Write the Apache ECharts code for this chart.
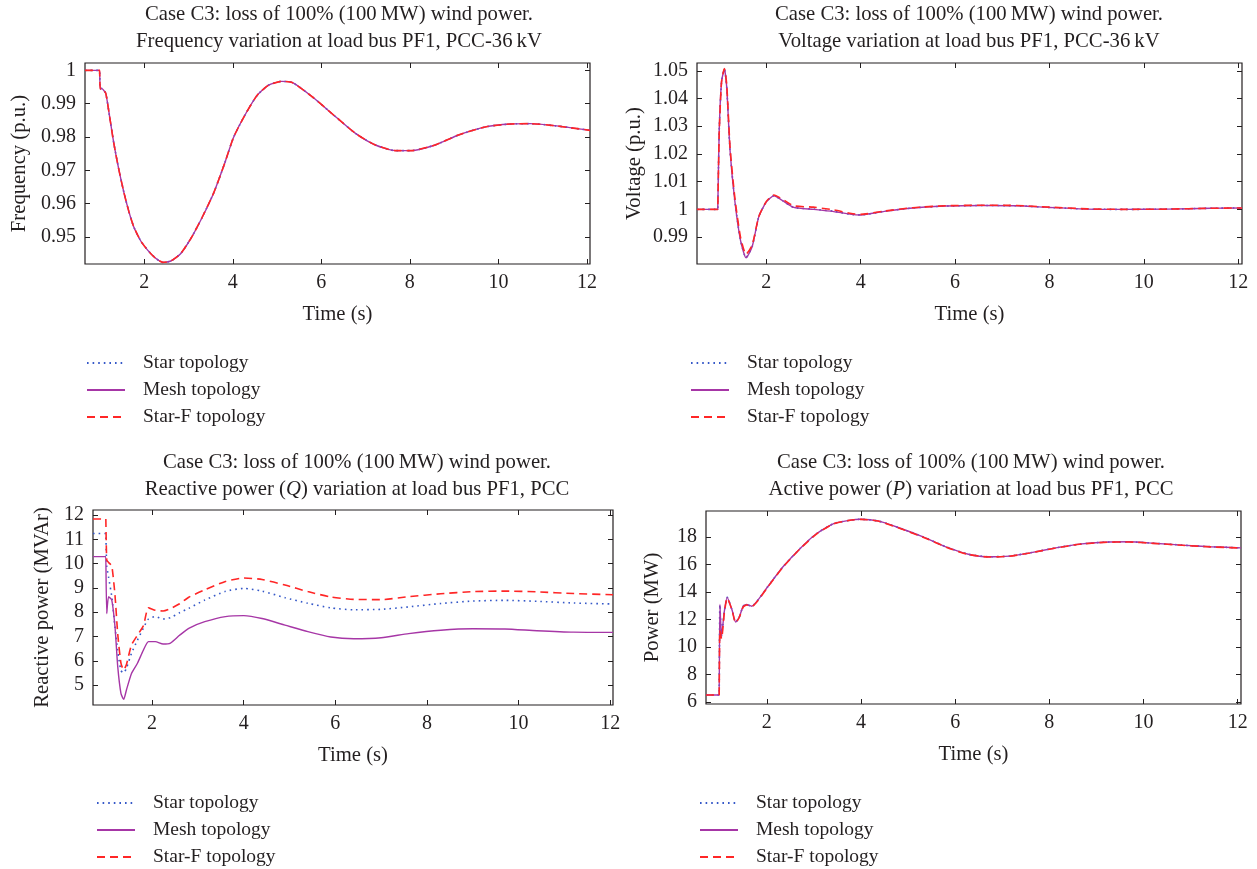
<!DOCTYPE html>
<html>
<head>
<meta charset="utf-8">
<title>Case C3: loss of 100% wind power</title>
<script src="https://cdn.jsdelivr.net/npm/echarts@6/dist/echarts.min.js"></script>
<style>
  html, body { margin: 0; padding: 0; background: #fff; }
  #main { width: 1257px; height: 869px; }
</style>
</head>
<body>
<div id="main"></div>
<script>
// ---- data ----
const seriesNames = ['Star topology', 'Mesh topology', 'Star-F topology'];
const timeTicks = [2, 4, 6, 8, 10, 12];

// frequency (p.u.)
const freqTime = [0.66, 0.99, 1.0, 1.005, 1.04, 1.07, 1.13, 1.22, 1.31, 1.42, 1.54, 1.65, 1.76, 1.92, 2.08, 2.25, 2.42, 2.6, 2.82, 3.05, 3.3, 3.57, 3.8, 4.02, 4.3, 4.55, 4.8, 5.1, 5.35, 5.8, 6.33, 6.78, 7.22, 7.67, 8.03, 8.57, 9.1, 9.73, 10.27, 10.72, 11.26, 12.07];
const freqStar = [1.0, 1.0, 1.0, 0.9944, 0.9946, 0.9942, 0.9931, 0.9858, 0.9782, 0.9705, 0.9633, 0.9577, 0.9531, 0.9488, 0.946, 0.9437, 0.9424, 0.9428, 0.945, 0.9495, 0.9557, 0.9633, 0.9715, 0.98, 0.9872, 0.9925, 0.9955, 0.9967, 0.9963, 0.992, 0.986, 0.981, 0.9776, 0.9759, 0.9759, 0.9776, 0.9806, 0.9831, 0.9839, 0.984, 0.9834, 0.982];
const freqMesh = [1.0, 1.0, 1.0, 0.9944, 0.9946, 0.9942, 0.9931, 0.9858, 0.9782, 0.9705, 0.9633, 0.9577, 0.9531, 0.9488, 0.946, 0.9437, 0.9424, 0.9428, 0.945, 0.9495, 0.9557, 0.9633, 0.9715, 0.98, 0.9872, 0.9925, 0.9955, 0.9967, 0.9963, 0.992, 0.986, 0.981, 0.9776, 0.9759, 0.9759, 0.9776, 0.9806, 0.9831, 0.9839, 0.984, 0.9834, 0.982];
const freqStarF = [1.0, 1.0, 1.0, 0.9944, 0.9946, 0.9942, 0.9931, 0.9858, 0.9782, 0.9705, 0.9633, 0.9577, 0.9531, 0.9488, 0.946, 0.9437, 0.9424, 0.9428, 0.945, 0.9495, 0.9557, 0.9633, 0.9715, 0.98, 0.9872, 0.9925, 0.9955, 0.9967, 0.9963, 0.992, 0.986, 0.981, 0.9776, 0.9759, 0.9759, 0.9776, 0.9806, 0.9831, 0.9839, 0.984, 0.9834, 0.982];
const freqTicks = [0.95, 0.96, 0.97, 0.98, 0.99, 1];

// voltage (p.u.)
const voltTime = [0.53, 0.97, 0.98, 1.0, 1.05, 1.11, 1.16, 1.23, 1.33, 1.45, 1.57, 1.7, 1.84, 2.0, 2.16, 2.33, 2.58, 3.0, 3.43, 3.8, 4.0, 4.5, 5.1, 5.8, 6.6, 7.3, 8.0, 8.8, 9.6, 10.5, 11.4, 12.08];
const voltStar = [1.0, 1.0, 1.0, 1.028, 1.046, 1.0506, 1.044, 1.0213, 1.0033, 0.989, 0.9826, 0.9866, 0.9974, 1.0027, 1.0049, 1.0033, 1.0007, 1.0001, 0.9993, 0.9982, 0.998, 0.9993, 1.0005, 1.0012, 1.0014, 1.0013, 1.0007, 1.0001, 1.0, 1.0001, 1.0004, 1.0005];
const voltMesh = [1.0, 1.0, 1.0, 1.028, 1.046, 1.0506, 1.044, 1.0213, 1.0033, 0.989, 0.9825, 0.9866, 0.9974, 1.0027, 1.0049, 1.0033, 1.0007, 1.0, 0.9992, 0.9982, 0.998, 0.9993, 1.0005, 1.0012, 1.0014, 1.0013, 1.0007, 1.0001, 1.0, 1.0001, 1.0004, 1.0005];
const voltStarF = [1.0, 1.0, 1.0, 1.027, 1.046, 1.0508, 1.045, 1.0225, 1.0045, 0.9902, 0.9838, 0.9872, 0.9974, 1.0029, 1.0052, 1.0038, 1.0013, 1.0008, 0.9998, 0.9985, 0.9982, 0.9994, 1.0006, 1.0013, 1.0015, 1.0014, 1.0008, 1.0002, 1.0, 1.0001, 1.0004, 1.0005];
const voltTicks = [0.99, 1, 1.01, 1.02, 1.03, 1.04, 1.05];

// reactive power (MVAr)
const qTime = [0.71, 0.99, 1.0, 1.01, 1.05, 1.12, 1.19, 1.25, 1.32, 1.38, 1.44, 1.55, 1.68, 1.81, 1.92, 2.07, 2.24, 2.4, 2.6, 2.8, 3.15, 3.6, 4.0, 4.4, 4.9, 5.4, 5.9, 6.4, 7.0, 7.6, 8.3, 9.0, 9.7, 10.4, 11.2, 12.06];
const qStar = [11.24, 11.24, 11.24, 9.9, 9.45, 8.64, 7.4, 6.4, 5.6, 5.5, 5.7, 6.31, 6.85, 7.35, 7.72, 7.82, 7.72, 7.78, 7.98, 8.16, 8.5, 8.86, 8.98, 8.87, 8.6, 8.37, 8.18, 8.1, 8.12, 8.22, 8.36, 8.46, 8.49, 8.45, 8.38, 8.34];
const qMesh = [10.29, 10.29, 10.29, 7.95, 8.64, 8.5, 7.4, 5.76, 4.66, 4.41, 4.8, 5.48, 5.9, 6.44, 6.79, 6.79, 6.69, 6.73, 7.05, 7.34, 7.61, 7.82, 7.86, 7.74, 7.47, 7.2, 6.98, 6.91, 6.95, 7.12, 7.26, 7.32, 7.31, 7.24, 7.18, 7.17];
const qStarF = [11.84, 11.84, 11.84, 10.15, 10.05, 9.9, 8.7, 7.1, 5.9, 5.62, 5.85, 6.65, 7.05, 7.45, 8.18, 8.08, 8.05, 8.15, 8.35, 8.62, 8.92, 9.27, 9.41, 9.35, 9.12, 8.85, 8.63, 8.53, 8.52, 8.64, 8.76, 8.85, 8.87, 8.84, 8.77, 8.72];
const qTicks = [5, 6, 7, 8, 9, 10, 11, 12];

// active power (MW)
const pTime = [0.71, 0.99, 1.0, 1.005, 1.04, 1.1, 1.16, 1.26, 1.34, 1.41, 1.5, 1.57, 1.68, 1.82, 2.0, 2.35, 2.71, 3.06, 3.42, 3.75, 4.0, 4.36, 4.79, 5.32, 5.84, 6.28, 6.72, 7.15, 7.59, 8.11, 8.64, 9.16, 9.69, 10.2, 10.82, 11.43, 12.07];
const pStar = [6.5, 6.5, 6.5, 13.08, 10.8, 12.6, 13.6, 12.72, 11.8, 12.12, 12.96, 13.08, 12.96, 13.44, 14.28, 15.84, 17.16, 18.24, 18.96, 19.2, 19.28, 19.16, 18.68, 18.0, 17.23, 16.74, 16.55, 16.6, 16.84, 17.18, 17.47, 17.61, 17.64, 17.54, 17.4, 17.28, 17.2];
const pMesh = [6.5, 6.5, 6.5, 13.08, 10.8, 12.6, 13.6, 12.72, 11.8, 12.12, 12.96, 13.08, 12.96, 13.44, 14.28, 15.84, 17.16, 18.24, 18.96, 19.2, 19.28, 19.16, 18.68, 18.0, 17.23, 16.74, 16.55, 16.6, 16.84, 17.18, 17.47, 17.61, 17.64, 17.54, 17.4, 17.28, 17.2];
const pStarF = [6.5, 6.5, 6.5, 11.2, 10.6, 12.5, 13.55, 12.7, 11.75, 12.1, 12.9, 13.05, 12.93, 13.4, 14.25, 15.82, 17.14, 18.22, 18.95, 19.2, 19.27, 19.15, 18.66, 17.98, 17.21, 16.72, 16.54, 16.59, 16.83, 17.17, 17.46, 17.6, 17.63, 17.53, 17.39, 17.27, 17.19];
const pTicks = [6, 8, 10, 12, 14, 16, 18];

// ---- chart ----
const font = '"Liberation Serif", "DejaVu Serif", serif';
const ink = '#231f20';
const txt = { fontFamily: font, fontSize: 20, color: ink };
const bigTxt = { fontFamily: font, fontSize: 20.7, color: ink };
const tickLine = { color: ink, width: 1 };

// one entry per panel: grid box, axis ranges, names
const panels = [
    { box: [85, 63, 505, 201], x: [0.66, 12.07], y: [0.9419, 1.0022], yTicks: freqTicks, yName: 'Frequency (p.u.)', yGap: 55,
      time: freqTime, values: [freqStar, freqMesh, freqStarF] },
    { box: [697, 63, 545, 201], x: [0.53, 12.08], y: [0.9803, 1.0528], yTicks: voltTicks, yName: 'Voltage (p.u.)', yGap: 52,
      time: voltTime, values: [voltStar, voltMesh, voltStarF] },
    { box: [93, 510, 520, 195], x: [0.71, 12.06], y: [4.18, 12.21], yTicks: qTicks, yName: 'Reactive power (MVAr)', yGap: 40,
      time: qTime, values: [qStar, qMesh, qStarF] },
    { box: [706, 511, 535, 193], x: [0.71, 12.07], y: [5.85, 19.88], yTicks: pTicks, yName: 'Power (MW)', yGap: 43,
      time: pTime, values: [pStar, pMesh, pStarF] },
];

const titles = [
    { x: 339, y: 1, text: 'Case C3: loss of 100% (100\u2009MW) wind power.\nFrequency variation at load bus PF1, PCC-36\u2009kV' },
    { x: 969, y: 1, text: 'Case C3: loss of 100% (100\u2009MW) wind power.\nVoltage variation at load bus PF1, PCC-36\u2009kV' },
    { x: 357, y: 449, text: 'Case C3: loss of 100% (100\u2009MW) wind power.\nReactive power ({i|Q}) variation at load bus PF1, PCC' },
    { x: 971, y: 449, text: 'Case C3: loss of 100% (100\u2009MW) wind power.\nActive power ({i|P}) variation at load bus PF1, PCC' },
];

const legendPos = [[86, 353], [690, 353], [96, 793], [699, 793]];

const lineStyles = [
    { color: '#3558c8', lineStyle: { width: 1.6, type: [1.6, 4] } },
    { color: '#a636a6', lineStyle: { width: 1.4, type: 'solid' } },
    { color: '#ff2626', lineStyle: { width: 1.6, type: [8, 5] } },
];

const fmt = v => String(+v.toFixed(2));

let grids = [], xAxes = [], yAxes = [], series = [];
panels.forEach((p, g) => {
    grids.push({
        left: p.box[0], top: p.box[1], width: p.box[2], height: p.box[3],
        show: true, borderColor: ink, borderWidth: 1.2, backgroundColor: 'transparent'
    });
    const xBase = { gridIndex: g, type: 'value', min: p.x[0], max: p.x[1], splitLine: { show: false }, axisLine: { show: false } };
    xAxes.push({
        ...xBase, position: 'bottom',
        name: 'Time (s)', nameLocation: 'middle', nameGap: 40, nameTextStyle: bigTxt,
        axisTick: { inside: true, length: 5, customValues: timeTicks, lineStyle: tickLine },
        axisLabel: { customValues: timeTicks, margin: 9, ...txt }
    });
    xAxes.push({
        ...xBase, position: 'top',
        axisTick: { inside: true, length: 5, customValues: timeTicks, lineStyle: tickLine },
        axisLabel: { show: false }
    });
    const yBase = { gridIndex: g, type: 'value', min: p.y[0], max: p.y[1], splitLine: { show: false }, axisLine: { show: false } };
    yAxes.push({
        ...yBase, position: 'left',
        name: p.yName, nameLocation: 'middle', nameGap: p.yGap, nameTextStyle: bigTxt,
        axisTick: { inside: true, length: 5, customValues: p.yTicks, lineStyle: tickLine },
        axisLabel: { customValues: p.yTicks, margin: 9, formatter: fmt, ...txt }
    });
    yAxes.push({
        ...yBase, position: 'right',
        axisTick: { inside: true, length: 5, customValues: p.yTicks, lineStyle: tickLine },
        axisLabel: { show: false }
    });
    p.values.forEach((vals, s) => {
        series.push({
            name: seriesNames[s],
            type: 'line',
            xAxisIndex: 2 * g,
            yAxisIndex: 2 * g,
            data: p.time.map((t, i) => [t, vals[i]]),
            symbol: 'none',
            smooth: 0.2,
            color: lineStyles[s].color,
            lineStyle: lineStyles[s].lineStyle,
            z: 2 + s
        });
    });
});

const myChart = echarts.init(document.getElementById('main'));
myChart.setOption({
    backgroundColor: '#fff',
    animation: false,
    title: titles.map(t => ({
        text: t.text,
        left: t.x,
        top: t.y,
        padding: 0,
        textAlign: 'center',
        textStyle: {
            ...bigTxt, fontWeight: 'normal', lineHeight: 27,
            rich: { i: { ...bigTxt, fontStyle: 'italic', lineHeight: 27 } }
        }
    })),
    legend: legendPos.map(pos => ({
        data: seriesNames,
        orient: 'vertical',
        left: pos[0],
        top: pos[1],
        padding: 0,
        itemWidth: 38,
        itemHeight: 12,
        itemGap: 7,
        selectedMode: false,
        itemStyle: { opacity: 0 },
        textStyle: { ...txt, fontSize: 19.5, padding: [0, 0, 0, 13] }
    })),
    grid: grids,
    xAxis: xAxes,
    yAxis: yAxes,
    series: series
});
</script>
</body>
</html>
